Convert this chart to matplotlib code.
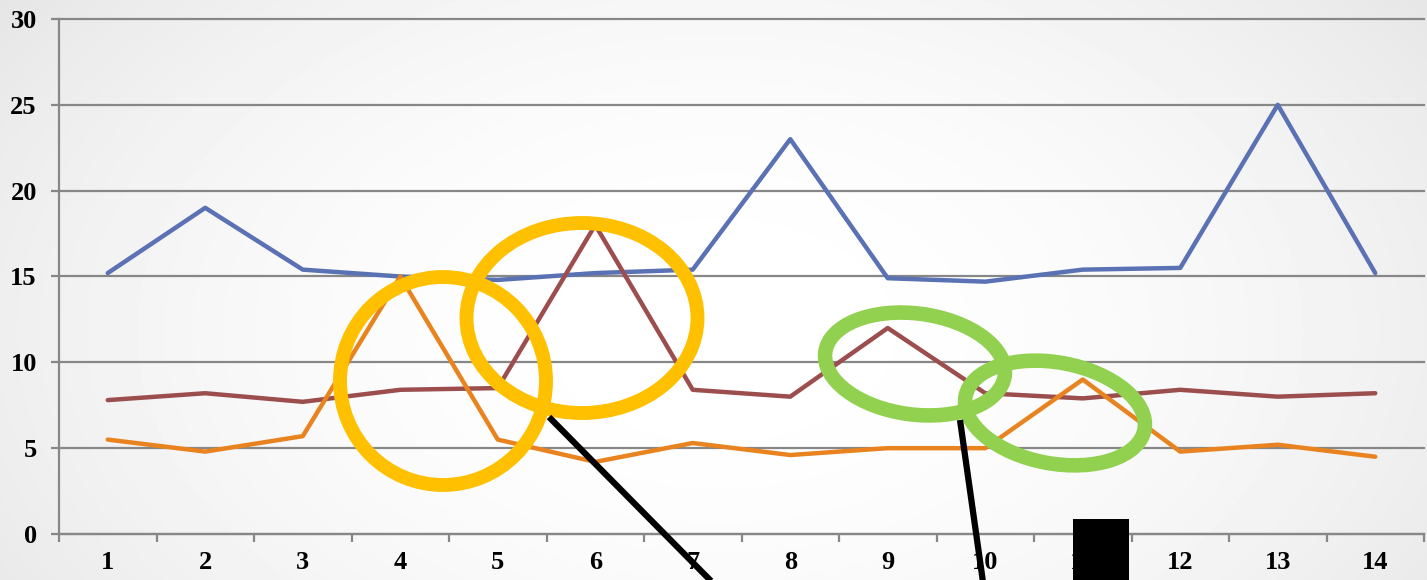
import numpy as np
import matplotlib
matplotlib.use("Agg")
import matplotlib.pyplot as plt
from matplotlib.patches import Ellipse, Rectangle

# series values per category
days = list(range(1, 15))
blue_vals = [15.2, 19.0, 15.4, 15.0, 14.8, 15.2, 15.4, 23.0, 14.9, 14.7, 15.4, 15.5, 25.0, 15.2]
red_vals = [7.8, 8.2, 7.7, 8.4, 8.5, 18.0, 8.4, 8.0, 12.0, 8.2, 7.9, 8.4, 8.0, 8.2]
orange_vals = [5.5, 4.8, 5.7, 15.0, 5.5, 4.2, 5.3, 4.6, 5.0, 5.0, 9.0, 4.8, 5.2, 4.5]
y_ticks = [0, 5, 10, 15, 20, 25, 30]

W, H = 1427, 580
fig = plt.figure(figsize=(W / 100, H / 100), dpi=100)

# soft radial background
bg = fig.add_axes([0, 0, 1, 1], zorder=0)
yy, xx = np.mgrid[0:H, 0:W]
r = np.sqrt(((xx - 720) / 820.0) ** 2 + ((yy - 330) / 520.0) ** 2)
shade = 1.0 - 0.085 * np.clip(r, 0, 1.3) ** 2
bg.imshow(shade, cmap="gray", vmin=0, vmax=1, aspect="auto", extent=[0, W, H, 0])
bg.axis("off")

ax = fig.add_axes([59 / W, (H - 534) / H, (1424 - 59) / W, (534 - 19) / H], zorder=1)
ax.patch.set_alpha(0)

grid_c = "#878787"
for v in y_ticks:
    ax.axhline(v, color=grid_c, lw=1.6, zorder=1, clip_on=False)

ax.plot(days, blue_vals, color="#5A72B4", lw=3.2, zorder=3, solid_joinstyle="round", solid_capstyle="round")
ax.plot(days, red_vals, color="#9C4E4E", lw=3.2, zorder=3, solid_joinstyle="round", solid_capstyle="round")
ax.plot(days, orange_vals, color="#E8831F", lw=3.2, zorder=3, solid_joinstyle="round", solid_capstyle="round")

ax.set_xlim(0.5, 14.5)
ax.set_ylim(0, 30)

for s in ["top", "right"]:
    ax.spines[s].set_visible(False)
for s in ["left", "bottom"]:
    ax.spines[s].set_color(grid_c)
    ax.spines[s].set_linewidth(1.6)

tick_font = dict(family="Liberation Serif", weight="bold", size=19)
ax.set_yticks(y_ticks)
ax.set_yticklabels([str(v) for v in y_ticks], fontdict=tick_font)
ax.tick_params(axis="y", length=6, width=1.6, color=grid_c, pad=10)

ax.set_xticks(days)
ax.set_xticklabels([str(d) for d in days], fontdict=tick_font)
ax.set_xticks(np.arange(0.5, 15, 1), minor=True)
ax.tick_params(axis="x", which="major", length=0, pad=12)
ax.tick_params(axis="x", which="minor", length=6, width=1.6, color=grid_c)

# highlight marks drawn in pixel space on top
ov = fig.add_axes([0, 0, 1, 1], zorder=5)
ov.set_xlim(0, W)
ov.set_ylim(H, 0)
ov.axis("off")
ov.patch.set_alpha(0)

yellow = "#FFC000"
green = "#92D050"
ov.add_patch(Ellipse((443, 381), 206, 208, fill=False, ec=yellow, lw=10))
ov.add_patch(Ellipse((582, 318), 231, 190, fill=False, ec=yellow, lw=10))
ov.add_patch(Ellipse((915, 364), 181, 101, angle=7.5, fill=False, ec=green, lw=10.5))
ov.add_patch(Ellipse((1055, 413), 182, 101, angle=10.5, fill=False, ec=green, lw=10.5))

ov.plot([549, 712], [417, 582], color="black", lw=4.5, solid_capstyle="butt")
ov.plot([960, 983], [420, 582], color="black", lw=4.5, solid_capstyle="butt")
ov.add_patch(Rectangle((1073, 519), 56, 62, color="black", lw=0))

fig.savefig("out.png", dpi=100)
